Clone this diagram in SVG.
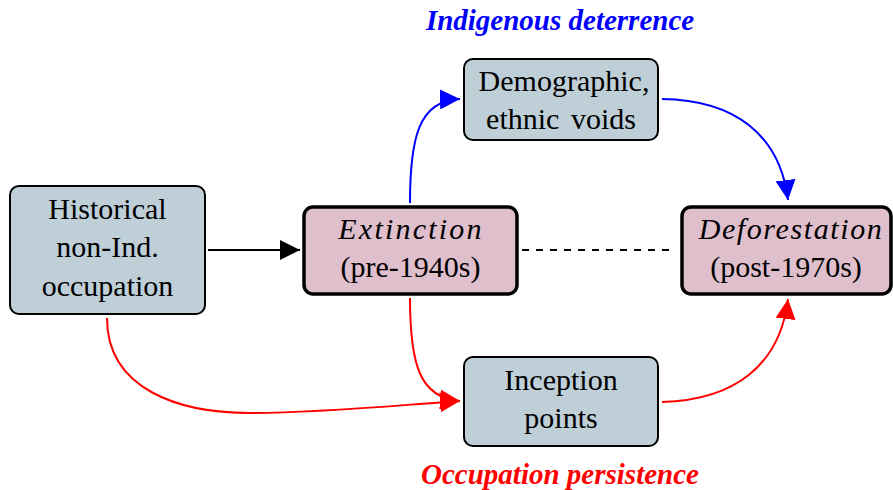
<svg xmlns="http://www.w3.org/2000/svg" width="893" height="490" viewBox="0 0 893 490">
<style>
.gb{fill:#bfcfd7;stroke:#000;stroke-width:2}
.pk{fill:#dfbfcb;stroke:#000;stroke-width:3.5}
.e{fill:none;stroke-width:2}
</style>
<defs>
<marker id="ab" viewBox="0 0 10 10" refX="10" refY="5" markerWidth="20" markerHeight="20" markerUnits="userSpaceOnUse" orient="auto"><path d="M0,0 L10,5 L0,10 z" fill="#0000ff"/></marker>
<marker id="ar" viewBox="0 0 10 10" refX="10" refY="5" markerWidth="20" markerHeight="20" markerUnits="userSpaceOnUse" orient="auto"><path d="M0,0 L10,5 L0,10 z" fill="#ff0000"/></marker>
<marker id="ak2" viewBox="0 0 10 10" refX="10" refY="5" markerWidth="20" markerHeight="20" markerUnits="userSpaceOnUse" orient="auto"><path d="M0,0 L10,5 L0,10 z" fill="#000"/></marker>
</defs>
<g id="connectors">
<path class="e" d="M208,250 L300,250" stroke="#000" marker-end="url(#ak2)"/>
<path class="e" d="M522,250 L674,250" stroke="#000" stroke-dasharray="7,7"/>
<path class="e" d="M410,203 C410,140 418,100 460,99" stroke="#0000ff" marker-end="url(#ab)"/>
<path class="e" d="M662,99 C735,100 780,135 788,200" stroke="#0000ff" marker-end="url(#ab)"/>
<path class="e" d="M410,298 C410,365 420,398 460,401" stroke="#ff0000" marker-end="url(#ar)"/>
<path class="e" d="M107,318 C107,390 180,413 250,413 C320,413 400,405 460,401" stroke="#ff0000" marker-end="url(#ar)"/>
<path class="e" d="M662,402 C735,400 780,365 788,299" stroke="#ff0000" marker-end="url(#ar)"/>
</g>
<g font-family="Liberation Serif">
<g id="historical">
<rect class="gb" x="10" y="186" width="195" height="128" rx="9"/>
<text x="107.5" y="219" font-size="30" text-anchor="middle">Historical</text>
<text x="107.5" y="257" font-size="30" text-anchor="middle">non-Ind.</text>
<text x="107.5" y="296" font-size="30" text-anchor="middle">occupation</text>
</g>
<g id="extinction">
<rect class="pk" x="304" y="207" width="213" height="87" rx="9"/>
<text x="411" y="239" font-size="30" text-anchor="middle" font-style="italic" letter-spacing="2.2">Extinction</text>
<text x="410.5" y="277" font-size="30" text-anchor="middle">(pre-1940s)</text>
</g>
<g id="deforestation">
<rect class="pk" x="682" y="207" width="209" height="87" rx="9"/>
<text x="791" y="239" font-size="30" text-anchor="middle" font-style="italic" letter-spacing="1.6">Deforestation</text>
<text x="786" y="277" font-size="30" text-anchor="middle">(post-1970s)</text>
</g>
<g id="demographic">
<rect class="gb" x="464" y="59" width="194" height="81" rx="9"/>
<text x="564" y="91" font-size="30" text-anchor="middle">Demographic,</text>
<text x="561" y="129" font-size="30" text-anchor="middle" word-spacing="4">ethnic voids</text>
</g>
<g id="inception">
<rect class="gb" x="464" y="357" width="194" height="89" rx="9"/>
<text x="561" y="390" font-size="30" text-anchor="middle">Inception</text>
<text x="561" y="428" font-size="30" text-anchor="middle">points</text>
</g>
<text x="560" y="30" font-size="29" font-weight="bold" font-style="italic" text-anchor="middle" fill="#0000ff">Indigenous deterrence</text>
<text x="560" y="484" font-size="29" font-weight="bold" font-style="italic" text-anchor="middle" fill="#ff0000">Occupation persistence</text>
</g>
</svg>
